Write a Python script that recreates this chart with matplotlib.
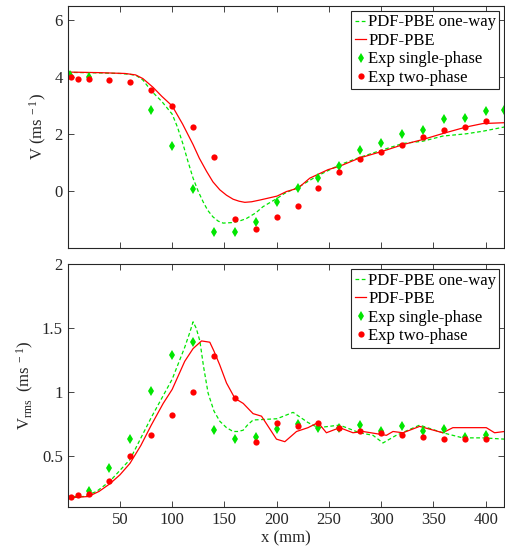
import matplotlib
matplotlib.use('Agg')
import matplotlib.pyplot as plt

plt.rcParams['font.family'] = ['Liberation Serif', 'DejaVu Serif']
plt.rcParams['mathtext.fontset'] = 'custom'
plt.rcParams['mathtext.rm'] = 'Liberation Serif'
plt.rcParams['mathtext.it'] = 'Liberation Serif:italic'

# ---- mean velocity V (top panel)
v_oneway_x = [0, 30, 50, 60, 66, 72, 80, 90, 100, 105, 110.5, 115, 120, 125, 129.6, 134, 139, 144, 148.8,
              158.3, 165, 171, 180, 187, 200.4, 207.8, 220.5, 238, 260.3, 279.4, 301.7, 320.9, 340, 359,
              381.5, 397.3, 418]
v_oneway_y = [4.17, 4.15, 4.13, 4.1, 4.05, 3.9, 3.52, 3.15, 2.7, 2.25, 1.63, 1.05, 0.45, -0.02, -0.38, -0.68,
              -0.91, -1.06, -1.13, -1.11, -1.05, -0.97, -0.77, -0.55, -0.26, -0.08, 0.13, 0.51, 0.92, 1.18,
              1.45, 1.67, 1.75, 1.93, 2.01, 2.1, 2.25]

v_pbe_x = [0, 30, 55, 65, 72, 81.8, 90, 100, 110, 120, 126, 132.9, 139, 145.6, 152, 158.3, 164, 169.5, 176,
           183.8, 200.4, 209.4, 220.5, 231.7, 249.2, 260.3, 279.4, 301.7, 320.9, 340, 359, 381.5, 397.3, 418]
v_pbe_y = [4.18, 4.16, 4.13, 4.08, 3.95, 3.64, 3.33, 2.99, 2.35, 1.63, 1.15, 0.69, 0.32, 0.04, -0.15, -0.29,
           -0.36, -0.40, -0.38, -0.32, -0.18, -0.02, 0.1, 0.45, 0.75, 0.87, 1.16, 1.40, 1.63, 1.81, 2.02,
           2.25, 2.37, 2.40]

v_single_x = [2, 20, 80, 100, 120, 140, 160, 180, 200, 220, 240, 260, 280, 300, 320, 340, 360, 380, 400, 418]
v_single_y = [4.08, 4.0, 2.85, 1.58, 0.07, -1.44, -1.44, -1.1, -0.38, 0.1, 0.47, 0.88, 1.43, 1.70, 2.02, 2.15,
              2.52, 2.55, 2.80, 2.86]

v_two_x = [3, 10, 20, 40, 60, 80, 100, 120, 140, 160, 180, 200, 220, 240, 260, 280, 300, 320, 340, 360, 380, 400]
v_two_y = [3.99, 3.95, 3.95, 3.91, 3.82, 3.55, 2.98, 2.25, 1.21, -0.98, -1.33, -0.92, -0.53, 0.12, 0.66, 1.11,
           1.36, 1.63, 1.89, 2.13, 2.26, 2.45]

# ---- rms velocity (bottom panel)
rms_oneway_x = [0, 15, 27.7, 40.4, 59.6, 80, 100, 112, 117, 120, 123, 126.5, 130, 134.4, 140, 145.6, 152,
                158.3, 163, 167.9, 172, 177.4, 200.4, 215.7, 230, 239.6, 260.3, 279.4, 292.2, 301.7, 314.4,
                336.8, 359, 378, 397.3, 418]
rms_oneway_y = [0.18, 0.18, 0.22, 0.30, 0.47, 0.80, 1.10, 1.35, 1.47, 1.55, 1.50, 1.40, 1.20, 0.99, 0.85,
                0.77, 0.72, 0.69, 0.69, 0.70, 0.74, 0.78, 0.79, 0.84, 0.76, 0.72, 0.74, 0.68, 0.66, 0.60,
                0.66, 0.74, 0.68, 0.64, 0.64, 0.63]

rms_pbe_x = [0, 19.7, 30, 40.4, 50, 59.6, 70, 80, 91.4, 100, 112, 120, 128.1, 136, 140, 145.6, 152, 160, 168,
             177.4, 185.5, 199.8, 207.8, 219, 230, 239.6, 247.6, 260.3, 273, 282.6, 305, 311.3, 320.9, 336.8,
             359, 368.6, 400.6, 408.5, 418]
rms_pbe_y = [0.17, 0.18, 0.22, 0.28, 0.35, 0.44, 0.58, 0.74, 0.91, 1.02, 1.24, 1.34, 1.40, 1.39, 1.32, 1.21,
             1.07, 0.95, 0.91, 0.83, 0.81, 0.63, 0.61, 0.69, 0.72, 0.76, 0.68, 0.72, 0.68, 0.69, 0.66, 0.69,
             0.68, 0.73, 0.68, 0.72, 0.72, 0.68, 0.69]

rms_single_x = [20, 40, 60, 80, 100, 120, 140, 160, 180, 200, 220, 240, 260, 280, 300, 320, 340, 360, 380, 400]
rms_single_y = [0.22, 0.40, 0.63, 1.01, 1.29, 1.39, 0.70, 0.63, 0.65, 0.71, 0.75, 0.72, 0.72, 0.74, 0.69, 0.73,
                0.69, 0.71, 0.65, 0.66]

rms_two_x = [3, 10, 20, 40, 60, 80, 100, 120, 140, 160, 180, 200, 220, 240, 260, 280, 300, 320, 340, 360, 380, 400]
rms_two_y = [0.18, 0.19, 0.20, 0.30, 0.50, 0.66, 0.82, 1.0, 1.28, 0.95, 0.61, 0.76, 0.73, 0.76, 0.72, 0.69, 0.68,
             0.66, 0.65, 0.63, 0.63, 0.63]

GREEN = '#00e600'
RED = '#ff0000'


def draw(ax, x1, y1, x2, y2, xs, ys, xt, yt):
    ax.plot(x1, y1, '--', color=GREEN, lw=0.9, dashes=(3, 2), label='PDF-PBE one-way')
    ax.plot(x2, y2, '-', color=RED, lw=0.9, label='PDF-PBE')
    ax.plot(xs, ys, 'd', color=GREEN, ms=5.5, mew=0, label='Exp single-phase')
    ax.plot(xt, yt, 'o', color=RED, ms=4.5, mew=0, label='Exp two-phase')
    ax.set_xlim(0, 418)
    ax.set_xticks(range(50, 401, 50))
    ax.tick_params(direction='in', top=True, right=True, labelsize=12, colors='#262626', length=4, width=0.6)
    for s in ax.spines.values():
        s.set_color('#262626')
        s.set_linewidth(0.8)
    leg = ax.legend(loc='upper right', fontsize=12, handlelength=0.7, handletextpad=0.1,
                    borderpad=0.2, labelspacing=0.15, borderaxespad=0.3, fancybox=False,
                    framealpha=1, edgecolor='#262626')
    leg.get_frame().set_linewidth(0.8)


fig = plt.figure(figsize=(5.05, 5.52), dpi=100)
ax1 = fig.add_axes([0.134, 0.551, 0.865, 0.438])
ax2 = fig.add_axes([0.134, 0.082, 0.865, 0.439])

draw(ax1, v_oneway_x, v_oneway_y, v_pbe_x, v_pbe_y, v_single_x, v_single_y, v_two_x, v_two_y)
ax1.set_ylim(-2, 6.5)
ax1.set_yticks([0, 2, 4, 6])
ax1.set_xticklabels([])
ax1.set_ylabel(r'V (ms$^{\rm \ -1}$)', fontsize=12, color='#262626')

draw(ax2, rms_oneway_x, rms_oneway_y, rms_pbe_x, rms_pbe_y, rms_single_x, rms_single_y, rms_two_x, rms_two_y)
ax2.set_ylim(0.1, 2)
ax2.set_yticks([0.5, 1, 1.5, 2])
ax2.set_yticklabels(['0.5', '1', '1.5', '2'])
ax2.set_xlabel('x (mm)', fontsize=12, color='#262626', labelpad=2)
ax2.set_ylabel(r'V$_{\rm rms}$  (ms$^{\rm \ -1}$)', fontsize=12, color='#262626')

fig.savefig('out.png', dpi=100)
